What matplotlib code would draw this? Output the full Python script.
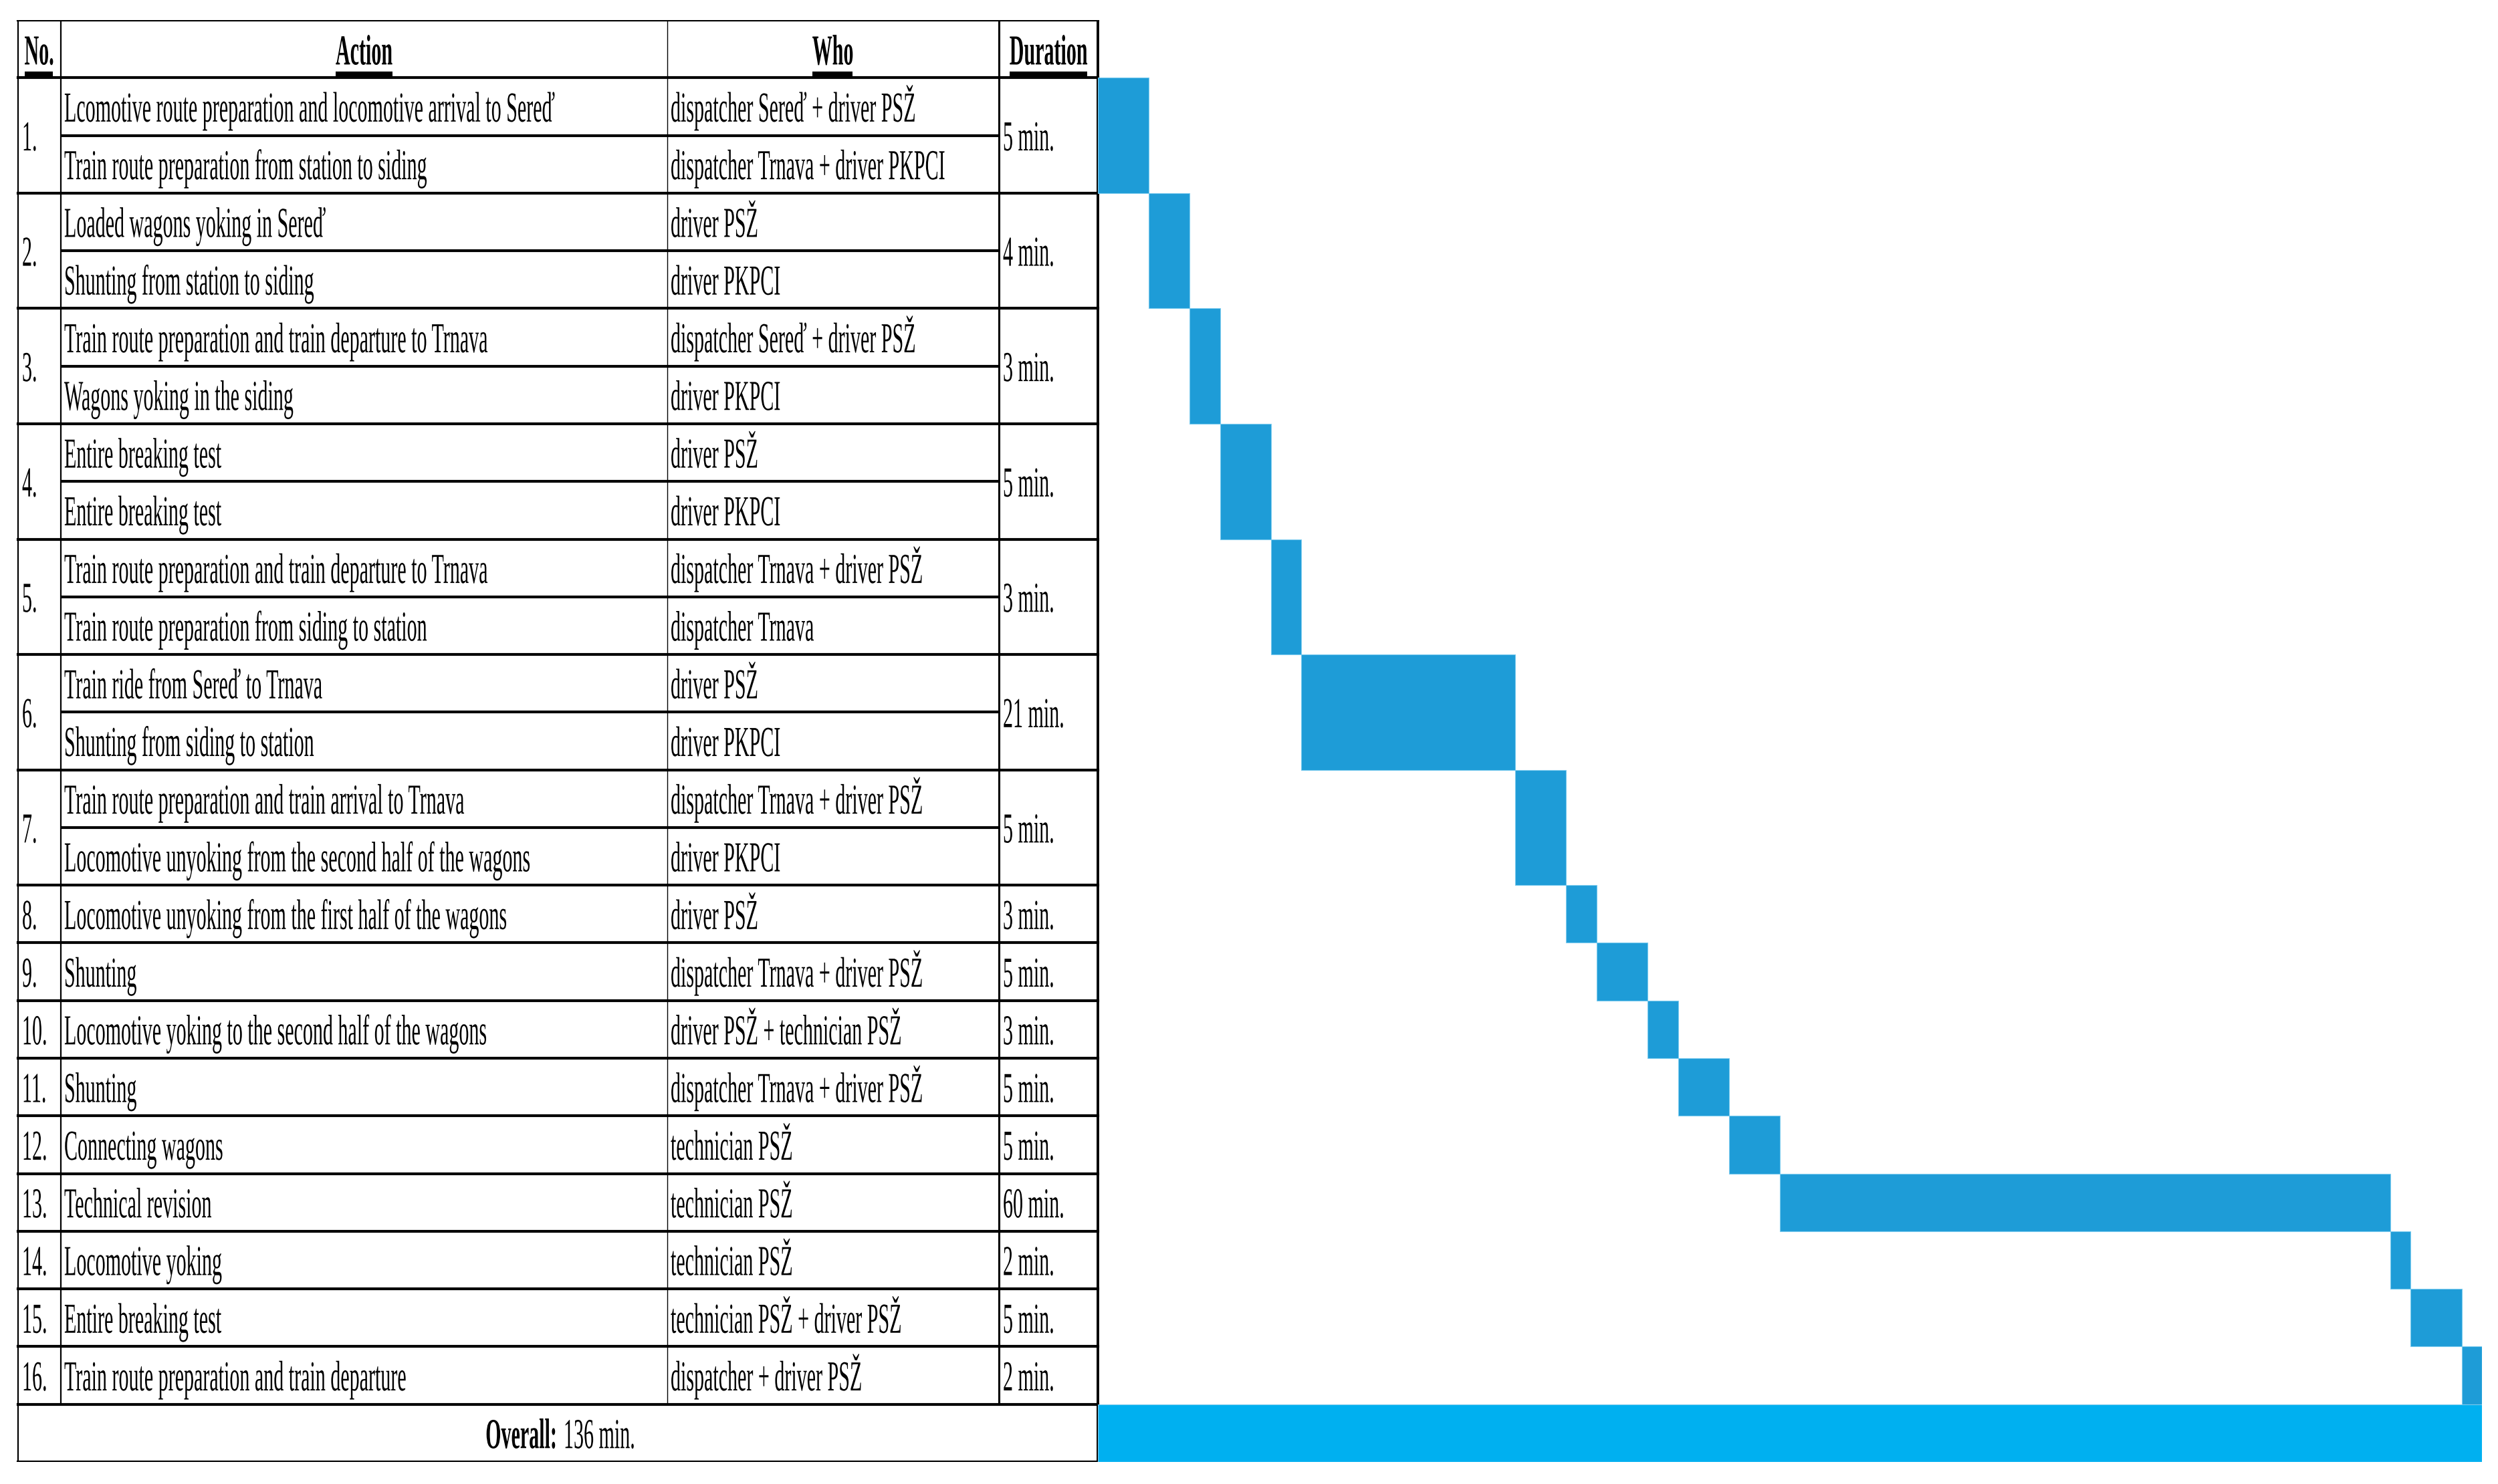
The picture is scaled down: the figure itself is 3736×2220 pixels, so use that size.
import numpy as np
import matplotlib
matplotlib.use('Agg')
from matplotlib import pyplot as plt
from matplotlib import patheffects
from matplotlib.path import Path
from matplotlib.transforms import Affine2D

# Daten der Tabelle
nums = ['1.', '2.', '3.', '4.', '5.', '6.', '7.', '8.', '9.', '10.', '11.', '12.', '13.', '14.', '15.', '16.']
actions = [
    ["Lcomotive route preparation and locomotive arrival to Sereď", "Train route preparation from station to siding"],
    ["Loaded wagons yoking in Sereď", "Shunting from station to siding"],
    ["Train route preparation and train departure to Trnava", "Wagons yoking in the siding"],
    ["Entire breaking test", "Entire breaking test"],
    ["Train route preparation and train departure to Trnava", "Train route preparation from siding to station"],
    ["Train ride from Sereď to Trnava", "Shunting from siding to station"],
    ["Train route preparation and train arrival to Trnava", "Locomotive unyoking from the second half of the wagons"],
    ["Locomotive unyoking from the first half of the wagons"],
    ["Shunting"],
    ["Locomotive yoking to the second half of the wagons"],
    ["Shunting"],
    ["Connecting wagons"],
    ["Technical revision"],
    ["Locomotive yoking"],
    ["Entire breaking test"],
    ["Train route preparation and train departure"],
]
who = [
    ["dispatcher Sereď + driver PSŽ", "dispatcher Trnava + driver PKPCI"],
    ["driver PSŽ", "driver PKPCI"],
    ["dispatcher Sereď + driver PSŽ", "driver PKPCI"],
    ["driver PSŽ", "driver PKPCI"],
    ["dispatcher Trnava + driver PSŽ", "dispatcher Trnava"],
    ["driver PSŽ", "driver PKPCI"],
    ["dispatcher Trnava + driver PSŽ", "driver PKPCI"],
    ["driver PSŽ"],
    ["dispatcher Trnava + driver PSŽ"],
    ["driver PSŽ + technician PSŽ"],
    ["dispatcher Trnava + driver PSŽ"],
    ["technician PSŽ"],
    ["technician PSŽ"],
    ["technician PSŽ"],
    ["technician PSŽ + driver PSŽ"],
    ["dispatcher + driver PSŽ"],
]
durations = [5, 4, 3, 5, 3, 21, 5, 3, 5, 3, 5, 5, 60, 2, 5, 2]
headers = ['No.', 'Action', 'Who', 'Duration']


# schmale (gestauchte) Schrift wie im Original, ueber einen Path-Effekt
class Narrow(patheffects.AbstractPathEffect):
    def __init__(self, sx=0.47, anchor=0.0, underline=False):
        super().__init__()
        self.sx = sx
        self.anchor = anchor
        self.underline = underline

    def draw_path(self, renderer, gc, tpath, affine, rgbFace=None):
        ext = tpath.get_extents()
        x0 = 0.0 if self.anchor == 0 else ext.x0 + self.anchor * ext.width
        tr = Affine2D().translate(-x0, 0).scale(self.sx, 1).translate(x0, 0) + affine
        renderer.draw_path(gc, tpath, tr, rgbFace)
        if self.underline:
            bb = tpath.get_extents(tr)
            base = tr.transform([[0, 0]])[0, 1]
            rect = Affine2D().scale(bb.width, 7).translate(bb.x0, base - 18)
            renderer.draw_path(gc, Path.unit_rectangle(), rect, rgbFace)


W, H = 3736, 2220
fig = plt.figure(figsize=(W / 100, H / 100), dpi=100)
bottom = (H - 2187) / H
height = (2187 - 30) / H
ax = fig.add_axes([0, bottom, 1, height])
ax.set_xlim(0, W)
ax.set_ylim(24, -1)
ax.axis('off')

x_left, x_no, x_act, x_who, x_right = 27, 91, 998, 1494, 1642
fs = 46
font = 'Liberation Serif'
lw_h = 3.0

nrows = [len(a) for a in actions]
row_start = np.concatenate([[0], np.cumsum(nrows)[:-1]])
n_total = sum(nrows)

# Linien
group_lines = [-1] + list(row_start) + [n_total, n_total + 1]
ax.hlines(group_lines, x_left, x_right, color='black', lw=lw_h, capstyle='projecting')
for r0, n in zip(row_start, nrows):
    for k in range(1, n):
        ax.hlines(r0 + k, x_no, x_who, color='black', lw=lw_h)
ax.vlines(x_left, -1, n_total + 1, color='black', lw=1.6)
ax.vlines(x_right, -1, n_total + 1, color='black', lw=2.8)
ax.vlines(x_no, -1, n_total, color='black', lw=1.6)
ax.vlines(x_act, -1, n_total, color='black', lw=1.0)
ax.vlines(x_who, -1, n_total, color='black', lw=2.2)

# Kopfzeile
head_x = [(x_left + x_no) / 2, (x_no + x_act) / 2, (x_act + x_who) / 2, (x_who + x_right) / 2]
for hx, h in zip(head_x, headers):
    ax.text(hx, -0.5 + 0.27, h, ha='center', va='baseline', fontsize=fs, family=font,
            fontweight='bold', path_effects=[Narrow(anchor=0.5, underline=True)])

# Tabelleninhalt
off = 0.26
for i in range(len(nums)):
    r0, n = row_start[i], nrows[i]
    yc = r0 + n / 2 + off
    ax.text(33, yc, nums[i], ha='left', va='baseline', fontsize=fs, family=font,
            path_effects=[Narrow()])
    ax.text(1500, yc, f'{durations[i]} min.', ha='left', va='baseline', fontsize=fs,
            family=font, path_effects=[Narrow()])
    for k in range(n):
        ax.text(96, r0 + k + 0.5 + off, actions[i][k], ha='left', va='baseline', fontsize=fs,
                family=font, path_effects=[Narrow()])
        ax.text(1003, r0 + k + 0.5 + off, who[i][k], ha='left', va='baseline', fontsize=fs,
                family=font, path_effects=[Narrow()])

# Gesamtzeile
ax.text(836, n_total + 0.5 + off, 'Overall:', ha='right', va='baseline', fontsize=fs,
        family=font, fontweight='bold', path_effects=[Narrow(anchor=1.0)])
ax.text(843, n_total + 0.5 + off, f'{sum(durations)} min.', ha='left', va='baseline',
        fontsize=fs, family=font, path_effects=[Narrow()])

# Gantt-Balken
axg = fig.add_axes([x_right / W, bottom, (3712 - x_right) / W, height])
total = sum(durations)
axg.set_xlim(0, total)
axg.set_ylim(24, -1)
axg.axis('off')
starts = np.concatenate([[0], np.cumsum(durations)[:-1]])
axg.barh(row_start, durations, left=starts, height=nrows, align='edge',
         color='#1e9cd7', edgecolor='#7ccbee', lw=0.8)
axg.barh(n_total, total, left=0, height=1, align='edge',
         color='#00b0f0', edgecolor='#7ccbee', lw=0.8)

fig.savefig('out.png', dpi=100)
